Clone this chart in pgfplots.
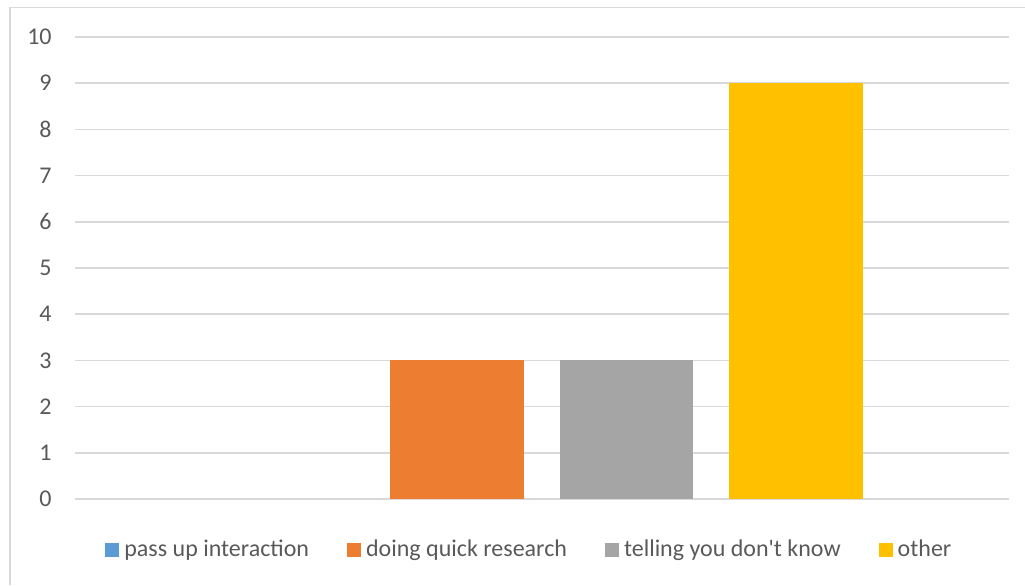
\documentclass[border=0pt]{standalone}
\usepackage{pgfplots}
\pgfplotsset{compat=1.18}
\usepackage{fontspec}
\setmainfont{Carlito}

\definecolor{sblue}{HTML}{5B9BD5}
\definecolor{sorange}{HTML}{ED7D31}
\definecolor{sgray}{HTML}{A5A5A5}
\definecolor{syellow}{HTML}{FFC000}
\definecolor{txt}{HTML}{595959}
\definecolor{gridc}{HTML}{D9D9D9}

\begin{document}
\begin{tikzpicture}
\useasboundingbox (0,0) rectangle (512.5pt,292.5pt);
% chart area frame
\draw[gridc, line width=0.9pt] (5pt,0) -- (5pt,288.75pt) -- (512.5pt,288.75pt);
\begin{axis}[
  at={(37.5pt,43pt)}, anchor=south west,
  scale only axis,
  width=467pt, height=231pt,
  xmin=-0.254, xmax=5.257,
  ymin=0, ymax=10,
  ytick={0,1,...,10},
  xtick=\empty,
  ymajorgrids,
  major grid style={gridc, line width=0.75pt},
  axis line style={draw=none},
  major tick length=0pt,
  tick label style={font=\fontsize{12}{14}\selectfont, text=txt},
  yticklabel style={anchor=east, inner sep=0pt, xshift=-11.5pt},
  /pgf/number format/assume math mode=true,
  legend columns=4,
  legend style={
    at={(0.0321,-0.1104)}, anchor=west,
    draw=none, fill=none, inner sep=0pt,
    font=\fontsize{12}{14}\selectfont, text=txt,
    nodes={inner sep=0pt, anchor=west},
    /tikz/every odd column/.append style={column sep=2.5pt},
    /tikz/every even column/.append style={column sep=19pt},
  },
  every axis plot/.append style={
    ybar, bar shift=0pt, bar width=0.79, draw=none,
    legend image code/.code={\fill[##1] (0pt,-3.5pt) rectangle (7pt,3.5pt);}
  },
]
% zero-valued series: no visible bar, only its legend key
\addplot[fill=none, legend image code/.code={\fill[sblue] (0pt,-3.5pt) rectangle (7pt,3.5pt);}]
  coordinates {(1,0)};
\addlegendentry{pass up interaction}
\addplot[fill=sorange] coordinates {(2,3)};
\addlegendentry{doing quick research}
\addplot[fill=sgray] coordinates {(3,3)};
\addlegendentry{telling you don\textquotesingle t know}
\addplot[fill=syellow] coordinates {(4,9)};
\addlegendentry{other}
\end{axis}
\end{tikzpicture}
\end{document}
